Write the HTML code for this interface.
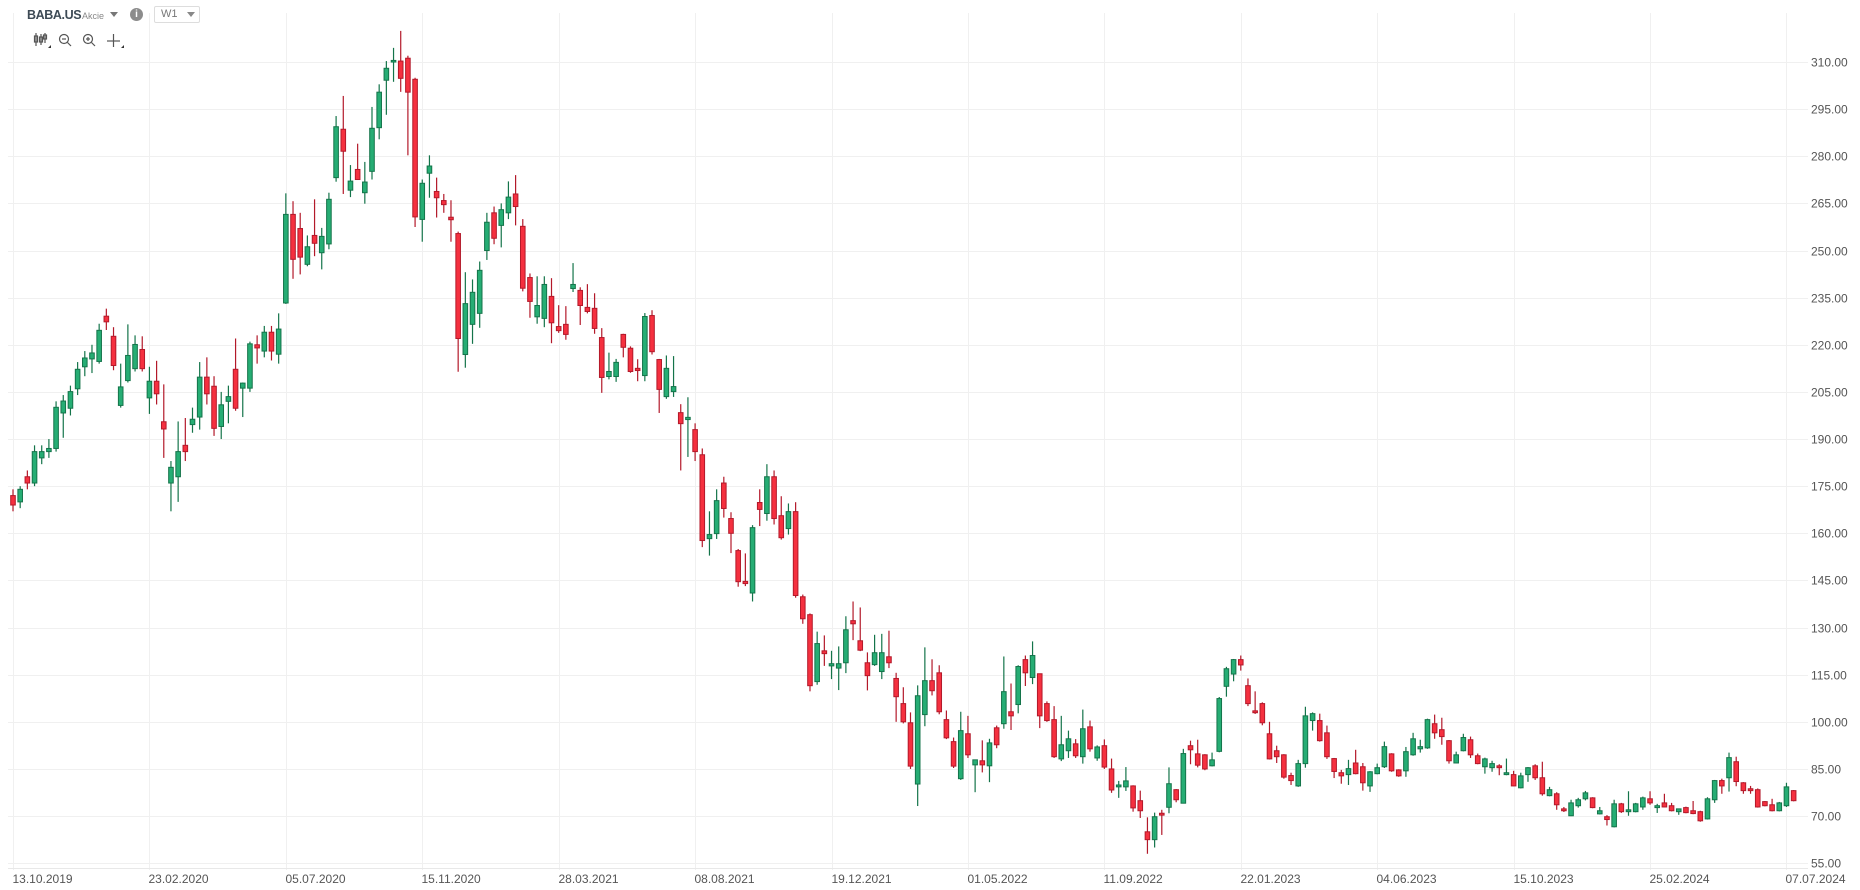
<!DOCTYPE html>
<html><head><meta charset="utf-8"><title>BABA.US W1</title>
<style>
html,body{margin:0;padding:0;background:#fff;width:1860px;height:890px;overflow:hidden;font-family:"Liberation Sans",sans-serif;}
#wrap{position:relative;width:1860px;height:890px;}
svg{position:absolute;left:0;top:0;}
.hdr{position:absolute;color:#3d4a55;}
</style></head>
<body>
<div id="wrap">
<svg id="chart" width="1860" height="890"></svg>
<div class="hdr" style="left:27px;top:8px;font-size:12.5px;font-weight:bold;letter-spacing:-0.4px;">BABA.US</div>
<div class="hdr" style="left:82px;top:11px;font-size:9px;color:#888;">Akcie</div>
<div class="hdr" style="left:110px;top:12px;width:0;height:0;border-left:4px solid transparent;border-right:4px solid transparent;border-top:5px solid #777;"></div>
<div class="hdr" style="left:130px;top:8px;width:13px;height:13px;border-radius:50%;background:#8c8c8c;color:#fff;font-size:10px;font-weight:bold;text-align:center;line-height:13px;">i</div>
<div class="hdr" style="left:154px;top:6px;width:44px;height:15px;border:1px solid #ddd;border-radius:2px;font-size:11px;color:#777;line-height:15px;"><span style="margin-left:6px">W1</span><span style="position:absolute;right:4px;top:5px;width:0;height:0;border-left:4px solid transparent;border-right:4px solid transparent;border-top:5px solid #888;"></span></div>
</div>
<script>
const opens=[172,170,178,176,184,186,187,198.3,199.8,206,213,215.5,214.7,229.1,222.7,200.7,208.6,212.4,218.5,203.1,208.4,195.5,176,178,188,194.6,197,209.7,206.8,194,202,212.2,206.2,206.2,220,218,224,217,233.3,261.5,257,245.6,254.8,249.3,252.1,273.2,288.6,269.2,275.8,268.4,275.2,289.1,304.2,310,310.3,311.2,304.5,259.9,274.6,268.8,265.9,260.6,255.4,216.9,226.5,230,250,262,258,262,268,257.7,241.4,228.9,228.4,235.4,225.8,226.5,237.9,237.3,231.9,231.6,222.3,209.9,209.9,223.3,218.9,212.5,210.2,229.3,215.3,203.5,205.1,198.4,196.2,193,185,158.3,159.9,176,164.7,154.5,144.7,141,169.8,166.3,178,165.6,161.5,166.9,139.8,134.1,112.8,122.6,117.8,117.1,118.8,132.2,125.8,118.8,118.2,116,120.7,113.8,105.8,99.7,80.2,102.3,113.1,115.6,100.7,93.7,81.9,96.2,86.3,87.6,86,98.1,99.4,103.2,105.5,119.8,114.1,115.3,105.8,100.7,88.2,90.8,93,88.9,98.4,88.5,92.4,85,79.3,79.3,79.6,74.9,65,62.5,70.9,72.8,78.4,74.1,92.4,89.8,89.5,86,90.6,111.3,115.2,119.8,111.5,103.5,105.8,96.2,90.8,89.5,82.9,79.6,86.7,100.4,100.4,96.5,88.3,83.8,83.2,86.9,85.7,79.6,83.5,85.7,89.8,84.7,84.4,89.5,91.4,91.7,99.4,97.5,94,86.9,90.8,94.3,89.2,85.7,85.4,86,83.2,83.2,79,83.2,86,82.2,76.5,77.1,72.3,70.1,73.3,75.5,75.8,70.7,69.8,66.6,73.9,71.4,71.4,72.9,75.5,72.7,74.2,73.3,71.4,72.7,71.7,71.4,69.1,75.2,81.3,82.2,87.3,80.6,78.7,78.4,74.6,73.6,71.7,73.3,78.1];
const highs=[174,175,180,188,188,190,202,204,207,214.5,218,220,226.7,231.5,225.6,214,226.5,223,222.7,213,214.9,207.4,183,195.6,196.7,200,214.5,216,210,205,207,222,208,221,223,226,226,230,268.2,265.7,262,254.8,266.3,257.2,268.4,292.8,299.2,277.2,284,278.2,295.7,302.9,310.3,314.5,319.9,312,305,272.6,280.3,273.2,268,266,256,243.1,240.8,246.5,262,264,265,272,274,260,242.7,241.8,241.8,241.2,232.6,232.3,246,238.3,239.3,236.4,225.3,217.5,215.5,223.5,219.5,215.4,230.1,231,215.5,216.6,216.4,201.1,203.3,195,187,167,174,178,166.7,155,153.6,162.6,174,182,180,171.8,169.5,169.9,140.5,134.5,128.7,127.5,122.6,124,133.6,138.3,136.4,122.1,127.7,128,129,115.6,111,103,111.6,123.7,119.9,118,103.6,95,103.2,101.9,87.9,94.1,94.6,98.8,120.8,112.2,118,121.1,125.6,115.3,106.5,105,101.9,97.2,94.5,103.9,100.4,92.5,94.4,88.3,81.2,85.6,79.8,78.1,69.6,71.1,72,85.5,78.6,91.4,94,94.3,89.7,90.2,107.9,117.5,120,121.1,113.8,109.7,106.2,100,92.4,89.7,83.8,87.9,104.8,103,102.6,98.8,88.5,84.7,87.9,91.1,86.9,84.3,86.7,93.7,90,84.9,92,96.5,94.3,101,102.3,101.3,94.2,90.5,96.2,95.3,89.9,88.6,87.6,86.5,88.3,84.4,83.8,85.6,86.5,87.3,79.3,77.6,72.9,75.2,75.8,78,76,72.9,70.3,75.2,74.2,77.9,74.2,76.2,77.9,73.9,77.1,74.2,72.3,73,74.8,71.7,76,81.5,81.9,90.2,88.9,80.8,79.6,78.8,74.8,75.5,74.5,80.6,78.3];
const lows=[167,168,174,175,182,184,186,190.4,197.5,204,210,211,214,224.7,211.9,200,208,211.5,211.5,198,201,184,167,170,183,192,193,201,191,190,195,199,197,205,214,216,215,214,233,241,242.4,245,248.2,244,250.4,271.9,268,267,273,264.9,272.6,285.4,293.2,303.7,300.5,280.3,257.5,252.8,266.8,260.5,262,252.8,211.4,212.7,220.3,225.4,247,252,251,260,258,237,228.6,226.7,225.6,220.5,223.8,221.6,236.8,226.3,230,223.5,204.7,209,208.2,216,211.1,208.4,208.4,216.9,198.3,202.8,203.4,180,184.3,183,155.6,152.9,158.2,165,153.7,143,143.2,138.3,162.3,164,162.8,158,159.6,139.5,131.2,109.7,111.8,117.8,113.6,110.1,115.5,126,122.5,110,117.8,113.6,117.1,100,99.5,85,73.2,98.6,108.4,102.4,94.5,85.3,81.5,88.5,77.6,83.9,80.8,91.6,97.8,97.4,102.7,111.4,112,98,100,88.5,87.5,88.5,88.5,86.7,90.5,87.6,85,77.4,75.8,78,71.4,69.4,58,60,64,70.9,74.4,74,86.5,85.5,84.6,85.8,90.3,108,112.9,116.3,105,102.5,98.9,88,86.9,81.9,79.9,79.3,85.4,97.2,93.7,88.2,82.1,80.3,79.9,83.3,78.1,77.7,83.3,85.3,84.1,82.5,82.5,89.2,90.2,91.4,94.6,92.7,86.7,86.8,90.6,88.5,86.5,83.5,84.1,83,83,79.5,78.8,80.9,81.5,76.5,76.3,72,71.3,70,72.7,75,72.5,70.5,67,66.4,71,70.1,71.2,72,73.6,71,72.8,71.5,70.4,70.9,70.6,68.2,68.9,74.2,77.1,77.8,79.5,77.1,77.1,72.7,73.1,71.5,71.5,72.9,74.7];
const closes=[169,174,176,186,186,187,200.1,202.1,205.1,212.2,215.8,217.4,224.6,227.3,213.4,206.6,216.6,220.1,212.4,208.4,204.4,193.2,181,186,186,196.3,209.7,204.4,193.4,200.9,203.5,199.8,207.8,220.3,219,224,218,225,261.5,247.2,247.9,251.2,252.3,254.5,266.3,289.4,281.6,272.1,272.6,271.8,288.9,300.4,308,310.5,304.8,300.4,260.7,271.4,276.9,266.8,264.6,259.8,222,233.1,236.7,243.7,259,253.9,263,267,264,238,233.8,232.5,239.2,227,224.5,223.3,239.2,232.5,230.6,225.2,209.6,211.5,214.4,219.2,211.5,211.8,229,217.8,205.8,212.5,206.7,194.9,196.9,186,157.7,159.6,170.4,167.9,160,144.6,144,161.8,167.6,178,164.7,158.6,166.9,140.2,132.8,111.5,124.9,121.7,118.5,118.5,129.3,131.2,122.8,114.7,122,122,118.8,108,100,85.9,108.3,113.1,109.9,103.2,94.9,85.9,97.2,89.5,87.9,86.3,93.3,92.7,109.6,101.9,117.6,115.6,121.1,101.9,100.4,88.9,92.7,94.6,89.2,97.8,91.4,92,85.6,78.3,79.9,81.2,72.6,71.7,62.5,69.8,70.3,80.3,75.2,89.9,91.1,86.2,85,87.9,107.4,116.9,119.8,118.1,105.8,102.9,99.7,88.2,88.9,82.4,81.3,86.7,101.9,102.6,94,88.9,84.2,82.8,85.1,83.5,80.6,84.1,85.4,92.1,84.4,82.8,90.5,94.6,92.1,100.7,96.5,95.3,87.6,89.5,95,89.5,86.7,88.2,86.7,85.4,83.8,79.6,82.8,85.4,82.2,77.1,78.4,73.6,71.7,74.2,75.2,77.4,72.7,71.7,68.9,73.9,71.4,72,73.9,75.8,74.2,73.3,72.9,71.7,72.3,71.1,70.8,68.5,75.5,81.3,79.6,88.6,81,78.1,78.1,72.9,73.3,71.7,74.2,79.3,74.9];
const priceTicks=[310,295,280,265,250,235,220,205,190,175,160,145,130,115,100,85,70,55];
const dateLabels=["13.10.2019","23.02.2020","05.07.2020","15.11.2020","28.03.2021","08.08.2021","19.12.2021","01.05.2022","11.09.2022","22.01.2023","04.06.2023","15.10.2023","25.02.2024","07.07.2024"];

const NS="http://www.w3.org/2000/svg";
const svg=document.getElementById('chart');
function yS(p){return 62+(310-p)*3.142;}
function xS(i){return 13+i*7.18;}
function mk(tag,attrs,parent){const e=document.createElementNS(NS,tag);for(const k in attrs)e.setAttribute(k,attrs[k]);(parent||svg).appendChild(e);return e;}

const grid=mk('g',{});


priceTicks.forEach(function(p){
  const y=Math.round(yS(p))+0.5;
  const l=mk('line',{x1:8,x2:1808,y1:y,y2:y,stroke:'#f0f0f0','stroke-width':1},grid);
  
  
  const t=mk('text',{x:1811,y:y+4,'font-size':12,fill:'#555','font-family':'Liberation Sans, sans-serif'});
  t.textContent=p.toFixed(2);
  
  
});
dateLabels.forEach(function(d,k){
  const x=Math.round(xS(k*19))+0.5;
  const l=mk('line',{x1:x,x2:x,y1:13,y2:870,stroke:'#f0f0f0','stroke-width':1},grid);
  
  
  const t=mk('text',{x:x-1,y:883,'font-size':12,fill:'#555','font-family':'Liberation Sans, sans-serif'});
  t.textContent=d;
  
  
});
const axl=mk('line',{x1:8,x2:1808,y1:868.5,y2:868.5,stroke:'#e8e8e8','stroke-width':1});



const cg=mk('g',{});


for(let i=0;i<closes.length;i++){
  const up=closes[i]>=opens[i];
  const fill=up?'#26ad74':'#f5303f';
  const edge=up?'#14744a':'#b3192a';
  const x=xS(i);
  const g=mk('g',{},cg);
  
  
  const w=mk('line',{x1:x,x2:x,y1:yS(highs[i]),y2:yS(lows[i]),stroke:edge,'stroke-width':1.2},g);
  
  
  const top=yS(Math.max(opens[i],closes[i])),bot=yS(Math.min(opens[i],closes[i]));
  const b=mk('rect',{x:x-2.3,y:top,width:4.6,height:Math.max(bot-top,1.5),fill:fill,stroke:edge,'stroke-width':1},g);
  
  
}

const tb=mk('g',{stroke:'#555',fill:'none','stroke-width':1.2});


const ic1=mk('g',{},tb);


mk('line',{x1:36,x2:36,y1:33,y2:46},ic1);mk('rect',{x:34.5,y:36,width:3,height:6},ic1);
mk('line',{x1:41,x2:41,y1:34,y2:45},ic1);mk('rect',{x:39.5,y:37,width:3,height:5},ic1);
mk('line',{x1:45,x2:45,y1:33,y2:43},ic1);mk('rect',{x:43.5,y:35,width:3,height:4},ic1);
mk('path',{d:'M48 48 L51 45 L51 48 Z',fill:'#333',stroke:'none'},ic1);
const ic2=mk('g',{},tb);


mk('circle',{cx:64,cy:39,r:4.5},ic2);mk('line',{x1:67.5,y1:42.5,x2:71,y2:46},ic2);mk('line',{x1:62,x2:66,y1:39,y2:39},ic2);
const ic3=mk('g',{},tb);


mk('circle',{cx:88,cy:39,r:4.5},ic3);mk('line',{x1:91.5,y1:42.5,x2:95,y2:46},ic3);mk('line',{x1:86,x2:90,y1:39,y2:39},ic3);mk('line',{x1:88,x2:88,y1:37,y2:41},ic3);
const ic4=mk('g',{},tb);


mk('line',{x1:107,x2:120,y1:41,y2:41},ic4);mk('line',{x1:113.5,x2:113.5,y1:34,y2:47},ic4);
mk('path',{d:'M121 48 L124 45 L124 48 Z',fill:'#333',stroke:'none'},ic4);
</script>
</body></html>
